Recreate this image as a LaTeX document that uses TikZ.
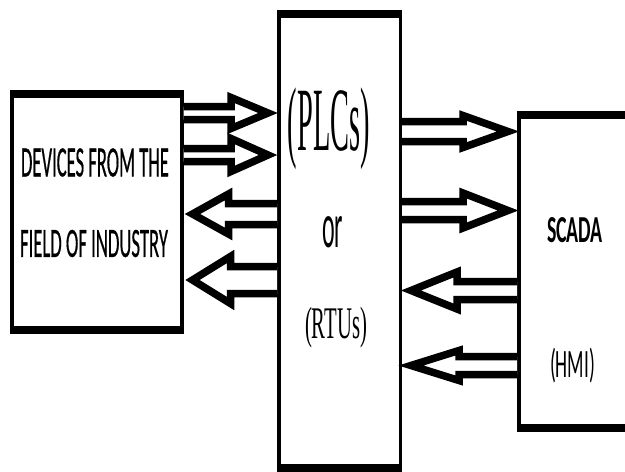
\documentclass[tikz,border=0pt]{standalone}
\usepackage{fontspec}
\usepackage{graphicx}
\newfontfamily\carlito{Carlito}
\newfontfamily\carlitoheavy[FakeBold=0.8]{Carlito}
\newfontfamily\timesfont{Liberation Serif}
\usetikzlibrary{calc}
\def\fatarrow(#1)(#2)(#3:#4:#5:#6){%
	\coordinate (s) at (#1 |- 0,#3);
	\coordinate (t) at ($(#2 |- 0,#3)!9pt!(s)$);
	\coordinate (h) at ($(t)!#6pt!(s)$);
	\draw[fatline] ($(s)+(0,-#4)$) -- ($(h)+(0,-#4)$) -- ($(h)+(0,-#5)$) -- (t) -- ($(h)+(0,#5)$) -- ($(h)+(0,#4)$) -- ($(s)+(0,#4)$);}

\begin{document}
\begin{tikzpicture}[x=1pt, y=-1pt,
		box/.style={draw, line width=3.5pt, inner sep=0pt},
		edge/.style={line width=8pt},
		fatline/.style={draw=black, fill=white, line width=7.5pt, line join=miter},
		txt/.style={inner sep=0pt}]
		%%%%% START %%%%%
		\useasboundingbox (0,0) rectangle (625,472);
		\clip (0,0) rectangle (625,472);
		
		\node[box, minimum width=170pt, minimum height=233pt] (dev) at (96.75,211.75) {};
		\node[box, minimum width=121.5pt, minimum height=451pt] (plc) at (339.5,240.75) {};
		\node[box, minimum width=139.5pt, minimum height=309pt] (scadabox) at (588.5,271.25) {};
		\foreach \b in {dev,plc,scadabox}
			\draw[edge] (\b.north west) -- (\b.north east) (\b.south west) -- (\b.south east);
		
		\fatarrow(dev.east)(plc.west)(113:6.5:15.5:37)
		\fatarrow(dev.east)(plc.west)(155:6.5:16.5:37)
		\fatarrow(plc.west)(dev.east)(214:10.5:20:36)
		\fatarrow(plc.west)(dev.east)(280:13.5:23.5:38)
		
		\fatarrow(plc.east)(scadabox.west)(131.5:10:16:45)
		\fatarrow(plc.east)(scadabox.west)(210.5:9:17.5:45)
		\fatarrow(scadabox.west)(plc.east)(290.5:9:18.5:46)
		\fatarrow(scadabox.west)(plc.east)(365.5:9:15:48)
		
		\node[txt] (devtop) at (95,162.5) {\resizebox{148pt}{28pt}{\carlitoheavy DEVICES FROM THE}};
		\node[txt] (devbot) at (94,243.5) {\resizebox{148pt}{27pt}{\carlitoheavy FIELD OF INDUSTRY}};
		
		\node[txt] (plcs) at (329,129) {\resizebox*{82pt}{82pt}{\timesfont (PLCs)}};
		\node[txt] (ortxt) at (332.5,232.5) {\resizebox{21pt}{31pt}{\carlito or}};
		\node[txt] (rtus) at (336,327.5) {\resizebox*{62pt}{41pt}{\timesfont (RTUs)}};
		
		\node[txt] (scada) at (575,230.5) {\resizebox{56pt}{25pt}{\carlito\bfseries SCADA}};
		\node[txt] (hmi) at (572.5,365.5) {\resizebox*{45pt}{35pt}{\carlito (HMI)}};
		%%%%% END %%%%%
\end{tikzpicture}
\end{document}
